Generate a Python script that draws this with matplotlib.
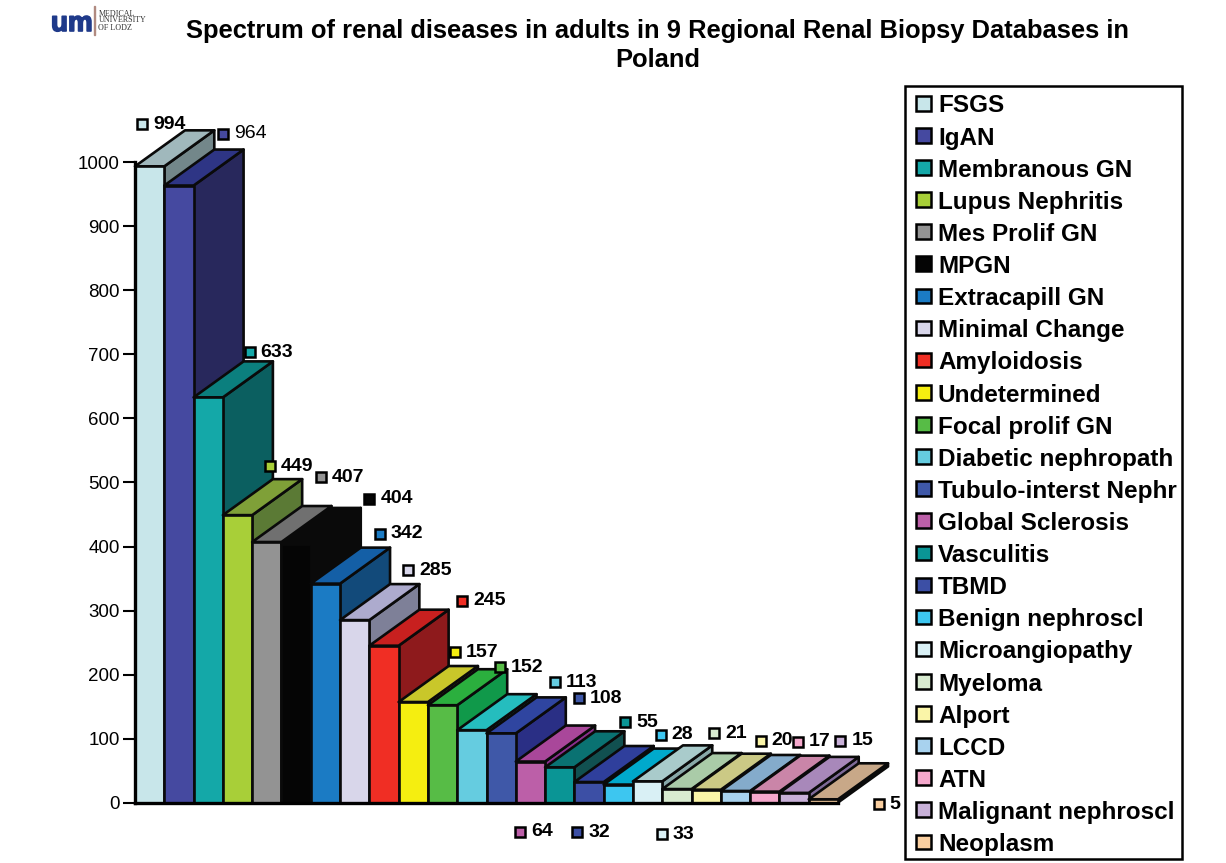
import matplotlib
matplotlib.use('Agg')
import matplotlib.pyplot as plt
import matplotlib.patheffects as pe
from matplotlib.legend_handler import HandlerPatch
from matplotlib.patches import Polygon, Patch, Rectangle
from matplotlib.transforms import Affine2D

plt.rcParams['font.family'] = ['Liberation Sans', 'DejaVu Sans']

categories = ['FSGS', 'IgAN', 'Membranous GN', 'Lupus Nephritis', 'Mes Prolif GN', 'MPGN',
              'Extracapill GN', 'Minimal Change', 'Amyloidosis', 'Undetermined', 'Focal prolif GN',
              'Diabetic nephropath', 'Tubulo-interst Nephr', 'Global Sclerosis', 'Vasculitis', 'TBMD',
              'Benign nephroscl', 'Microangiopathy', 'Myeloma', 'Alport', 'LCCD', 'ATN',
              'Malignant nephroscl', 'Neoplasm']
values = [994, 964, 633, 449, 407, 404, 342, 285, 245, 157, 152, 113, 108, 64, 55, 32, 28, 33,
          21, 20, 18, 17, 15, 5]

front_colors = ['#C8E6EA', '#4549A0', '#14A8A8', '#A8CF38', '#939393', '#050505', '#1B7BC4', '#D8D6EA',
                '#F02E24', '#F5EE10', '#57BC46', '#65CCE0', '#3F58A8', '#BC5FA8', '#0A9595', '#3C4FA5',
                '#3DC6F0', '#D9F0F5', '#D8EBD0', '#FAF5A8', '#A8D2EE', '#F5A8CC', '#C8B0D8', '#FACFA0']
top_colors = ['#A0B8BC', '#2E3585', '#0B7F7E', '#7FA038', '#707070', '#0A0A0A', '#145FA6', '#ADABCE',
              '#C8201F', '#C9C72A', '#2BAF3E', '#25BDBE', '#2F45A0', '#A9479A', '#0A7272', '#2F3F9C',
              '#00A9CC', '#A9CBCB', '#AACBA8', '#CBC985', '#84ABCB', '#CA85A8', '#A888BA', '#C8A888']
side_colors = ['#73878A', '#28285C', '#0B5F60', '#5B7A35', '#555555', '#0A0A0A', '#124A7A', '#7E8098',
               '#8E1A1C', '#9A9A20', '#10994A', '#1AA0A0', '#2A2F85', '#8A2E8C', '#115050', '#28308C',
               '#0090B0', '#88A8A8', '#8AA888', '#A0A070', '#6A8AA5', '#A56A8A', '#7E6A98', '#8A7055']

# pixel offsets of the value labels from the front top left corner of each bar
label_dx = [7, 59, 56, 47, 69, 88, 69, 68, 93, 56, 72, 98, 92, 4, 80, 3, 57, 29, 52, 69, 0, 48, 61, 70]
label_dy = [42, 52, 45, 49, 65, 45, 50, 50, 45, 50, 38, 48, 35, -70, 45, -50, 50, -53, 56, 49, 0, 50, 52, -5]

W, H = 1226, 863
fig = plt.figure(figsize=(W / 100, H / 100), dpi=100)
ax = fig.add_axes([135 / W, (H - 802.5) / H, 703 / W, 640 / H])
ax.set_xlim(0, len(values))
ax.set_ylim(0, 1000)

depth_x = 50 / (703 / len(values))
depth_y = 36 / 0.64

for i, v in enumerate(values):
    front = [(i, 0), (i + 1, 0), (i + 1, v), (i, v)]
    top = [(i, v), (i + 1, v), (i + 1 + depth_x, v + depth_y), (i + depth_x, v + depth_y)]
    side = [(i + 1, 0), (i + 1 + depth_x, depth_y), (i + 1 + depth_x, v + depth_y), (i + 1, v)]
    for pts, col in [(side, side_colors[i]), (top, top_colors[i]), (front, front_colors[i])]:
        ax.add_patch(Polygon(pts, closed=True, facecolor=col, edgecolor='#0a0a0a', linewidth=1.9,
                             joinstyle='round', clip_on=False, zorder=2 + i * 0.01))

for i, v in enumerate(values):
    if categories[i] == 'LCCD':
        continue  # no label visible for this one
    off = Affine2D().translate(label_dx[i], label_dy[i])
    ax.plot([i], [v], marker='s', markersize=7.5, markerfacecolor=front_colors[i],
            markeredgecolor='black', markeredgewidth=1.8, transform=ax.transData + off,
            clip_on=False, zorder=5)
    ax.annotate(str(v), (i, v), xytext=(label_dx[i] + 11, label_dy[i]), textcoords='offset pixels',
                fontsize=14, fontweight='normal' if v == 964 else 'bold', va='center', ha='left',
                annotation_clip=False, zorder=6)

for s in ['top', 'right']:
    ax.spines[s].set_visible(False)
ax.spines['left'].set_linewidth(2.4)
ax.spines['bottom'].set_linewidth(2.4)
ax.set_xticks([])
ax.set_yticks(range(0, 1001, 100))
ax.tick_params(axis='y', length=9, width=1.5, labelsize=13.5, pad=2)

fig.text(658 / W, (H - 31) / H, 'Spectrum of renal diseases in adults in 9 Regional Renal Biopsy Databases in',
         ha='center', va='center', fontsize=18.4, fontweight='bold')
fig.text(658 / W, (H - 60) / H, 'Poland', ha='center', va='center', fontsize=18.4, fontweight='bold')

# logo
fig.text(51 / W, (H - 31) / H, 'um', color='#1F3A8A', fontsize=20, fontweight='bold', ha='left', va='baseline',
         path_effects=[pe.withStroke(linewidth=1.2, foreground='#1F3A8A')])
fig.add_artist(Rectangle((94 / W, (H - 35) / H), 1 / W, 29 / H, color='#B08A80', transform=fig.transFigure))
for y, t in zip([13.5, 20.5, 28], ['MEDICAL', 'UNIVERSITY', 'OF LODZ']):
    fig.text(98.5 / W, (H - y) / H, t, fontsize=5.8, family='Liberation Serif', color='#333333', va='center')


def square_handle(legend, orig_handle, xdescent, ydescent, width, height, fontsize):
    return Rectangle((4, (height - 10.5) / 2 - 1.6), 10.5, 10.5)


handles = [Patch(facecolor=c, edgecolor='black', linewidth=1.8) for c in front_colors]
leg = fig.legend(handles, categories, loc='upper left', bbox_to_anchor=(905 / W, (H - 86) / H),
                 prop={'size': 17.5, 'weight': 'bold'}, frameon=True, fancybox=False, edgecolor='black',
                 framealpha=1, handlelength=0.85, handleheight=0.7, handletextpad=0.28,
                 labelspacing=0.375, borderaxespad=0, borderpad=0.226,
                 handler_map={Patch: HandlerPatch(patch_func=square_handle)})
leg.get_frame().set_linewidth(1.8)
for t in leg.get_texts():
    t.set_position((0, -3))

fig.savefig('out.png', dpi=100)
